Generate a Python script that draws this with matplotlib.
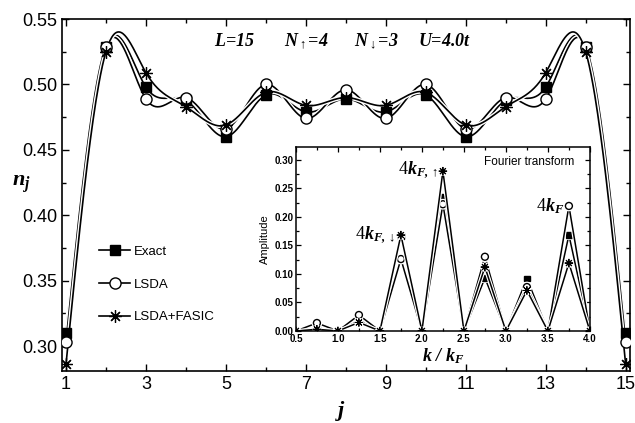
import numpy as np
import matplotlib.pyplot as plt
import matplotlib.patheffects as pe
from matplotlib.ticker import MultipleLocator

plt.rcParams["font.family"] = ["Liberation Sans", "DejaVu Sans"]
plt.rcParams["mathtext.fontset"] = "custom"
plt.rcParams["mathtext.rm"] = "Liberation Serif:bold:italic"
plt.rcParams["mathtext.it"] = "Liberation Serif:bold:italic"
plt.rcParams["mathtext.bf"] = "Liberation Serif:bold:italic"

# site occupation n_j
sites = np.arange(1, 16)
n_exact = [0.310, 0.529, 0.498, 0.488, 0.460, 0.492, 0.479, 0.489,
           0.479, 0.492, 0.460, 0.488, 0.498, 0.529, 0.310]
n_lsda = [0.303, 0.529, 0.489, 0.490, 0.466, 0.500, 0.474, 0.496,
          0.474, 0.500, 0.466, 0.490, 0.489, 0.529, 0.303]
n_fasic = [0.286, 0.525, 0.509, 0.483, 0.469, 0.494, 0.484, 0.490,
           0.484, 0.494, 0.469, 0.483, 0.509, 0.525, 0.286]

# Fourier transform amplitudes
k_vals = [0.5, 0.75, 1.0, 1.25, 1.5, 1.75, 2.0, 2.25, 2.5, 2.75, 3.0, 3.25, 3.5, 3.75, 4.0]
ft_exact = [0, 0.005, 0, 0.018, 0, 0.166, 0, 0.235, 0, 0.093, 0, 0.092, 0, 0.168, 0]
ft_lsda = [0, 0.014, 0, 0.028, 0, 0.126, 0, 0.222, 0, 0.130, 0, 0.077, 0, 0.219, 0]
ft_fasic = [0, 0.003, 0, 0.015, 0, 0.168, 0, 0.280, 0, 0.112, 0, 0.071, 0, 0.119, 0]


def natural_spline(x, y, xs):
    x = np.asarray(x, float)
    y = np.asarray(y, float)
    n = len(x)
    h = np.diff(x)
    a = np.zeros((n, n))
    b = np.zeros(n)
    a[0, 0] = a[-1, -1] = 1.0
    for i in range(1, n - 1):
        a[i, i - 1] = h[i - 1]
        a[i, i] = 2 * (h[i - 1] + h[i])
        a[i, i + 1] = h[i]
        b[i] = 6 * ((y[i + 1] - y[i]) / h[i] - (y[i] - y[i - 1]) / h[i - 1])
    m = np.linalg.solve(a, b)
    idx = np.clip(np.searchsorted(x, xs) - 1, 0, n - 2)
    dx = xs - x[idx]
    hi = h[idx]
    c0 = y[idx]
    c1 = (y[idx + 1] - y[idx]) / hi - hi * (2 * m[idx] + m[idx + 1]) / 6
    c2 = m[idx] / 2
    c3 = (m[idx + 1] - m[idx]) / (6 * hi)
    return c0 + c1 * dx + c2 * dx**2 + c3 * dx**3


halo = [pe.Stroke(linewidth=3.2, foreground="white"), pe.Normal()]

fig = plt.figure(figsize=(6.35, 4.23), dpi=100)
ax = fig.add_axes([0.0976, 0.123, 0.894, 0.832])

series = [
    (n_exact, dict(marker="s", mfc="black", mec="black", ms=7), "Exact"),
    (n_lsda, dict(marker="o", mfc="white", mec="black", ms=8), "LSDA"),
    (n_fasic, dict(marker=(8, 2, 0), mfc="black", mec="black", ms=9, mew=0.9), "LSDA+FASIC"),
]
xs = np.linspace(1, 15, 600)
for vals, mk, label in series:
    ax.plot(xs, natural_spline(sites, vals, xs), color="black", lw=1.2,
            path_effects=halo, zorder=2)
    ax.plot(sites, vals, linestyle="none", zorder=3, **mk)
    ax.plot([], [], color="black", lw=1.2, label=label, **mk)

ax.set_xlim(0.9, 15.1)
ax.set_ylim(0.281, 0.55)
ax.xaxis.set_minor_locator(MultipleLocator(1))
ax.yaxis.set_major_locator(MultipleLocator(0.05))
ax.yaxis.set_minor_locator(MultipleLocator(0.025))
ax.set_xticks(range(1, 16, 2))
ax.tick_params(which="both", direction="in", top=True, right=True, labelsize=13, width=1)
ax.tick_params(which="major", length=5)
ax.tick_params(which="minor", length=3)
ax.yaxis.set_major_formatter(plt.FormatStrFormatter("%.2f"))
for s in ax.spines.values():
    s.set_linewidth(1.2)

ax.text(-0.072, 0.53, r"$n_j$", fontsize=16, ha="center", va="center",
        transform=ax.transAxes)
ax.text(0.49, -0.115, r"$j$", fontsize=16, ha="center", va="center",
        transform=ax.transAxes)

for xt, txt in [(4.7, r"$L$=15"), (6.45, r"$N_{\uparrow}$=4"),
                (8.2, r"$N_{\downarrow}$=3"), (9.8, r"$U$=4.0$t$")]:
    ax.text(xt, 0.5325, txt, fontsize=13, ha="left", va="center",
            family="Liberation Serif", weight="bold", style="italic")

ax.legend(loc="upper left", bbox_to_anchor=(0.045, 0.39), frameon=False, fontsize=9.5,
          labelspacing=1.55, handlelength=2.3, handletextpad=0.3)

# inset
ins = fig.add_axes([0.466, 0.2175, 0.463, 0.436])
inset_series = [
    (ft_exact, dict(marker="s", mfc="black", mec="black", ms=4)),
    (ft_lsda, dict(marker="o", mfc="white", mec="black", ms=5)),
    (ft_fasic, dict(marker=(8, 2, 0), mfc="black", mec="black", ms=6, mew=0.7)),
]
for vals, mk in inset_series:
    ins.plot(k_vals, vals, color="black", lw=1.1,
             path_effects=[pe.Stroke(linewidth=2.8, foreground="white"), pe.Normal()],
             **mk)
ins.set_xlim(0.5, 4.0)
ins.set_ylim(0, 0.323)
ins.xaxis.set_major_locator(MultipleLocator(0.5))
ins.xaxis.set_minor_locator(MultipleLocator(0.25))
ins.yaxis.set_major_locator(MultipleLocator(0.05))
ins.yaxis.set_minor_locator(MultipleLocator(0.025))
ins.xaxis.set_major_formatter(plt.FormatStrFormatter("%.1f"))
ins.yaxis.set_major_formatter(plt.FormatStrFormatter("%.2f"))
ins.tick_params(which="both", direction="in", top=True, right=True, labelsize=7,
                width=0.9, pad=2)
ins.tick_params(which="major", length=3.5)
ins.tick_params(which="minor", length=2)
for lab in ins.get_xticklabels() + ins.get_yticklabels():
    lab.set_fontweight("bold")
for s in ins.spines.values():
    s.set_linewidth(1.1)
ins.set_ylabel("Amplitude", fontsize=8, labelpad=3)
ins.set_xlabel(r"$k\ /\ k_F$", fontsize=13, labelpad=2)

ins.text(3.82, 0.296, "Fourier transform", fontsize=8.5, ha="right", va="center")
for xt, yt, txt in [(1.68, 0.168, r"4$k_{F,\downarrow}$"),
                    (2.19, 0.282, r"4$k_{F,\uparrow}$"),
                    (3.70, 0.219, r"4$k_{F}$")]:
    ins.text(xt, yt, txt, fontsize=13, ha="right", va="center",
             family="Liberation Serif")

fig.savefig("out.png", dpi=100)
